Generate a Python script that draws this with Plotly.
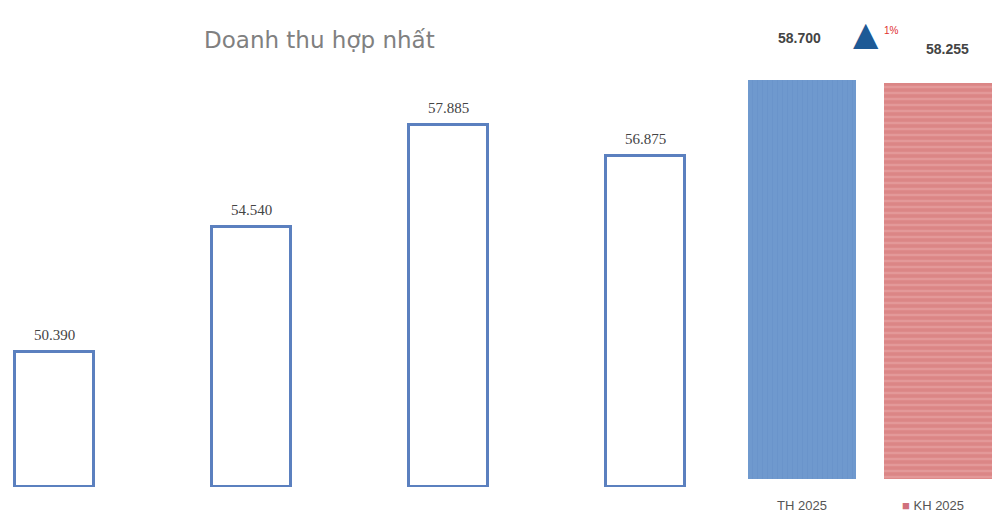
import plotly.graph_objects as go

# Historical consolidated revenue (billion VND)
periods = ["2021", "2022", "2023", "2024"]
revenue = [50390, 54540, 57885, 56875]

# 2025: actual (TH) vs plan (KH)
plan_labels = ["TH 2025", "KH 2025"]
plan_values = [58700, 58255]

growth_text = "1%"
title_text = "Doanh thu hợp nhất"

LEFT_FLOOR = 45950
LEFT_TOP = 62020
RIGHT_TOP = 70500


def fmt(v):
    return f"{v:,}".replace(",", ".")


fig = go.Figure()

# Outlined history bars, drawn up from the axis floor
fig.add_trace(go.Bar(
    x=periods,
    y=[v - LEFT_FLOOR for v in revenue],
    base=LEFT_FLOOR,
    width=0.406,
    marker=dict(color="white", line=dict(color="#5b80bf", width=3)),
    xaxis="x", yaxis="y",
    showlegend=False,
    hoverinfo="skip",
))

# 2025 actual vs plan
fig.add_trace(go.Bar(
    x=[plan_labels[0]],
    y=[plan_values[0]],
    width=0.8,
    marker=dict(
        color="#6b95cb",
        line=dict(width=0),
        pattern=dict(shape="|", fgcolor="#6690c7", bgcolor="#6f99ce",
                     size=5, solidity=0.2),
    ),
    xaxis="x2", yaxis="y2",
    showlegend=False,
))
fig.add_trace(go.Bar(
    x=[plan_labels[1]],
    y=[plan_values[1]],
    width=0.8,
    marker=dict(
        color="#df8d8d",
        line=dict(width=0),
        pattern=dict(shape="-", fgcolor="#ecabab", bgcolor="#db8686",
                     size=6, solidity=0.4),
    ),
    xaxis="x2", yaxis="y2",
    showlegend=False,
))

annotations = []

# Value labels above history bars
for i, v in enumerate(revenue):
    annotations.append(dict(
        x=i, y=v, xref="x", yref="y",
        text=fmt(v),
        showarrow=False, yanchor="bottom", yshift=7,
        font=dict(family="Liberation Serif", size=15, color="#444444"),
    ))

# Value labels above 2025 bars
annotations.append(dict(
    x=0, y=plan_values[0], xref="x2", yref="y2",
    text=f"<b>{fmt(plan_values[0])}</b>",
    showarrow=False, yanchor="bottom", yshift=32, xshift=-3,
    font=dict(family="Liberation Sans", size=14, color="#444444"),
))
annotations.append(dict(
    x=1, y=plan_values[1], xref="x2", yref="y2",
    text=f"<b>{fmt(plan_values[1])}</b>",
    showarrow=False, yanchor="bottom", yshift=24, xshift=9,
    font=dict(family="Liberation Sans", size=14, color="#444444"),
))

# Growth marker
annotations.append(dict(
    x=866 / 993, y=1 - 33 / 516, xref="paper", yref="paper",
    xanchor="center", yanchor="middle",
    text="▲", showarrow=False,
    font=dict(family="DejaVu Sans", size=33, color="#1d5a96"),
))
annotations.append(dict(
    x=891 / 993, y=1 - 31 / 516, xref="paper", yref="paper",
    xanchor="center", yanchor="middle",
    text=growth_text, showarrow=False,
    font=dict(family="Liberation Sans", size=10, color="#e03030"),
))

# Category captions under the 2025 bars
annotations.append(dict(
    x=802 / 993, y=1 - 505 / 516, xref="paper", yref="paper",
    xanchor="center", yanchor="middle",
    text=plan_labels[0], showarrow=False,
    font=dict(family="Liberation Sans", size=13, color="#555555"),
))
annotations.append(dict(
    x=933 / 993, y=1 - 505 / 516, xref="paper", yref="paper",
    xanchor="center", yanchor="middle",
    text=f"<span style='color:#d0707c'>■</span> {plan_labels[1]}",
    showarrow=False,
    font=dict(family="Liberation Sans", size=13, color="#555555"),
))

# Title
annotations.append(dict(
    x=319 / 993, y=1 - 40 / 516, xref="paper", yref="paper",
    xanchor="center", yanchor="middle",
    text=title_text, showarrow=False,
    font=dict(family="DejaVu Sans", size=23, color="#808080"),
))

hidden = dict(showgrid=False, zeroline=False, showticklabels=False,
              showline=False, ticks="", fixedrange=True)

fig.update_layout(
    width=993, height=516,
    margin=dict(l=0, r=0, t=0, b=0),
    paper_bgcolor="white", plot_bgcolor="white",
    bargap=0,
    xaxis=dict(type="category", domain=[0, 740 / 993],
               range=[-0.2766, 3.4797], **hidden),
    yaxis=dict(domain=[29 / 516, 1], range=[LEFT_FLOOR, LEFT_TOP], **hidden),
    xaxis2=dict(type="category", domain=[745 / 993, 1],
                range=[-0.419, 1.404], anchor="y2", **hidden),
    yaxis2=dict(domain=[37 / 516, 1], range=[0, RIGHT_TOP],
                anchor="x2", **hidden),
    annotations=annotations,
    showlegend=False,
)

fig.write_html("out.html")
